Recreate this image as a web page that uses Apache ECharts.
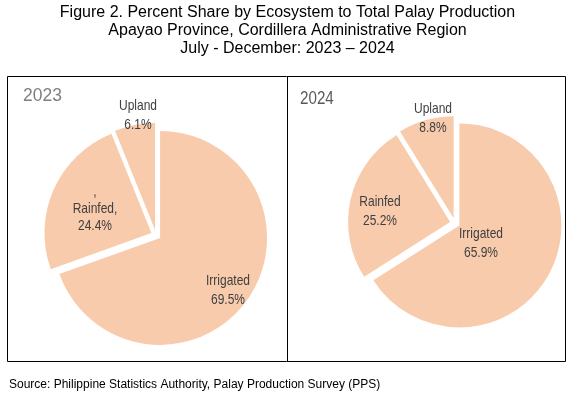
<!DOCTYPE html>
<html lang="en">
<head>
    <meta charset="UTF-8">
    <title>Palay Production by Ecosystem</title>
    <script src="https://cdn.jsdelivr.net/npm/echarts@6/dist/echarts.min.js"></script>
    <style>
        html, body { margin: 0; padding: 0; background: #fff; }
    </style>
</head>
<body>
<div id="dom" style="width: 575px;height: 399px"></div>
<script>
    var categories = ['Irrigated', 'Rainfed', 'Upland'];
    var labels2023 = ['Irrigated', ',\nRainfed,', 'Upland'];
    var labels2024 = ['Irrigated', 'Rainfed', 'Upland'];
    var share2023 = [69.5, 24.4, 6.1];
    var share2024 = [65.9, 25.2, 8.8];
    var years = ['2023', '2024'];

    // label anchor points (layout only)
    var labelPos2023 = [[228, 290], [95, 209], [138, 115]];
    var labelPos2024 = [[481, 243], [380, 211], [433, 118]];

    var sliceColor = '#f8cbad';
    var textColor = '#404040';
    var sans = '"Liberation Sans", Arial, sans-serif';

    function makePie(values, center, radius) {
        return {
            type: 'pie',
            center: center,
            radius: radius,
            startAngle: 90,
            clockwise: true,
            selectedMode: 'multiple',
            selectedOffset: 5,
            animation: false,
            silent: true,
            itemStyle: { color: sliceColor },
            emphasis: { disabled: true },
            label: { show: false },
            labelLine: { show: false },
            data: values.map(function (v, i) {
                return { name: categories[i], value: v, selected: true };
            })
        };
    }

    // slice labels in a narrow face (squeezed Liberation Sans)
    function makeLabels(values, names, pos) {
        return values.map(function (v, i) {
            return {
                type: 'text',
                x: pos[i][0],
                y: pos[i][1],
                scaleX: 0.8,
                z: 10,
                style: {
                    x: 0, y: 0,
                    text: names[i] + '\n' + v.toFixed(1) + '%',
                    fontFamily: sans,
                    fontSize: 15,
                    lineHeight: names[i].indexOf('\n') >= 0 ? 17 : 19,
                    align: 'center',
                    verticalAlign: 'middle',
                    fill: textColor
                }
            };
        });
    }

    var myCharts = echarts.init(document.getElementById('dom'));
    var graphics = [
        {
            type: 'rect',
            shape: { x: 7.5, y: 76.5, width: 558, height: 285 },
            style: { fill: null, stroke: '#000', lineWidth: 1 }
        },
        {
            type: 'line',
            shape: { x1: 287.5, y1: 76.5, x2: 287.5, y2: 361.5 },
            style: { stroke: '#000', lineWidth: 1 }
        },
        {
            type: 'text',
            x: 23, y: 96, scaleX: 0.92,
            style: { x: 0, y: 0, text: years[0], fontFamily: sans, fontSize: 19,
                verticalAlign: 'middle', fill: '#7f7f7f' }
        },
        {
            type: 'text',
            x: 300, y: 99, scaleX: 0.8,
            style: { x: 0, y: 0, text: years[1], fontFamily: sans, fontSize: 19,
                verticalAlign: 'middle', fill: '#595959' }
        },
        {
            type: 'text',
            x: 9, y: 385,
            style: {
                x: 0, y: 0,
                text: 'Source: Philippine Statistics Authority, Palay Production Survey (PPS)',
                fontFamily: sans, fontSize: 12, verticalAlign: 'middle', fill: '#000'
            }
        }
    ].concat(makeLabels(share2023, labels2023, labelPos2023))
     .concat(makeLabels(share2024, labels2024, labelPos2024));

    var option = {
        backgroundColor: '#ffffff',
        animation: false,
        title: {
            text: 'Figure 2. Percent Share by Ecosystem to Total Palay Production\nApayao Province, Cordillera Administrative Region\nJuly - December: 2023 \u2013 2024',
            left: 'center',
            top: 4,
            padding: 0,
            textStyle: {
                fontFamily: sans,
                fontWeight: 'normal',
                fontSize: 16,
                lineHeight: 18,
                color: '#000'
            }
        },
        graphic: graphics,
        series: [
            makePie(share2023, [156, 235], 107),
            makePie(share2024, [455, 223], 102)
        ]
    };
    myCharts.setOption(option);
</script>
</body>
</html>
